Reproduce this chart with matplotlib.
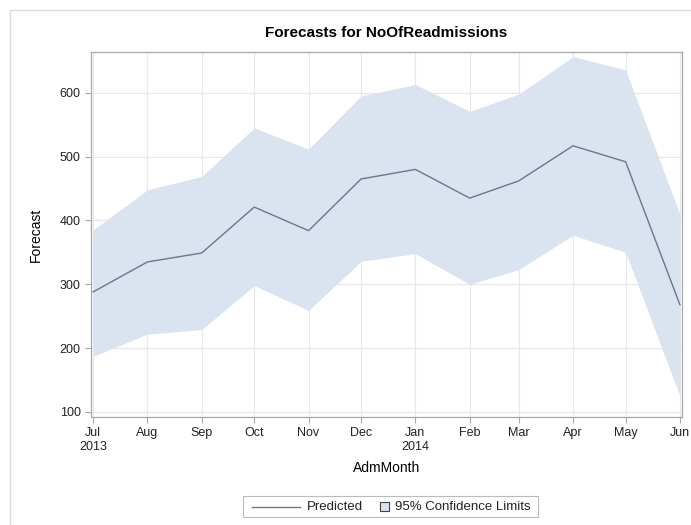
import matplotlib.pyplot as plt
import matplotlib.dates as mdates
from matplotlib.patches import Rectangle
from matplotlib.lines import Line2D
import numpy as np

plt.rcParams['font.family'] = ['Liberation Sans', 'DejaVu Sans']

# monthly forecast with 95% limits
months = np.array(['2013-07-01', '2013-08-01', '2013-09-01', '2013-10-01', '2013-11-01',
                   '2013-12-01', '2014-01-01', '2014-02-01', '2014-03-01', '2014-04-01',
                   '2014-05-01', '2014-06-01'], dtype='datetime64[D]')
predicted = [288, 335, 349, 421, 384, 465, 480, 435, 462, 517, 492, 268]
upper = [385, 448, 469, 545, 512, 595, 613, 571, 598, 657, 636, 410]
lower = [187, 222, 229, 298, 259, 336, 348, 300, 323, 377, 350, 125]
tick_labels = ['Jul\n2013', 'Aug', 'Sep', 'Oct', 'Nov', 'Dec', 'Jan\n2014',
               'Feb', 'Mar', 'Apr', 'May', 'Jun']
legend_labels = ['Predicted', '95% Confidence Limits']

fill_col = '#DAE3F0'
line_col = '#67788C'
grid_col = '#E8E8E8'
frame_col = '#A8A8A8'

W, H = 691, 525


def fx(px):
    return px / W


def fy(py):
    return 1 - py / H


fig = plt.figure(figsize=(W / 100, H / 100), dpi=100)
# outer panel border
fig.patches.append(Rectangle((fx(10), -0.01), 1.0, fy(10) + 0.01,
                             transform=fig.transFigure, fill=False,
                             edgecolor='#DDDDDD', linewidth=1))

ax = fig.add_axes([fx(91), fy(417), fx(682) - fx(91), fy(52) - fy(417)])
x = mdates.date2num(months.astype('datetime64[s]').astype(object))

ax.fill_between(x, lower, upper, color=fill_col, linewidth=0, zorder=2)
ax.plot(x, predicted, color=line_col, linewidth=1.0, zorder=3)

ax.set_xlim(x[0] - 1.2, x[-1] + 1.2)
ax.set_ylim(92, 664)
ax.set_xticks(x)
ax.set_xticklabels(tick_labels)
ax.set_yticks([100, 200, 300, 400, 500, 600])

ax.grid(True, color=grid_col, linewidth=0.9, zorder=1)
ax.set_axisbelow(True)
for sp in ax.spines.values():
    sp.set_color(frame_col)
    sp.set_linewidth(0.9)
ax.tick_params(axis='both', colors=frame_col, labelcolor='#222222',
               labelsize=9, length=4, width=0.8)
ax.tick_params(axis='x', pad=3)

ax.set_title('Forecasts for NoOfReadmissions', fontsize=11, fontweight='bold', pad=11)
ax.set_xlabel('AdmMonth', fontsize=10, labelpad=6)
ax.set_ylabel('Forecast', fontsize=10, labelpad=12)

# legend box drawn by hand: line sample is long, band sample is a small square
fig.patches.append(Rectangle((fx(243), fy(517)), fx(538) - fx(243), fy(496) - fy(517),
                             transform=fig.transFigure, facecolor='white',
                             edgecolor='#BBBBBB', linewidth=0.8))
fig.lines.append(Line2D([fx(252), fx(300)], [fy(507), fy(507)],
                        transform=fig.transFigure, color=line_col, linewidth=1.0))
fig.text(fx(307), fy(507), legend_labels[0], fontsize=9.5, va='center', ha='left',
         color='#222222')
fig.patches.append(Rectangle((fx(380), fy(511)), fx(389) - fx(380), fy(502) - fy(511),
                             transform=fig.transFigure, facecolor=fill_col,
                             edgecolor='#444444', linewidth=0.8))
fig.text(fx(395), fy(507), legend_labels[1], fontsize=9.5, va='center', ha='left',
         color='#222222')

fig.savefig('out.png', dpi=100)
